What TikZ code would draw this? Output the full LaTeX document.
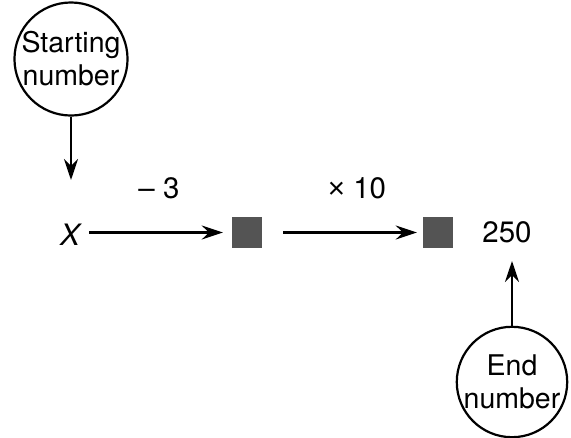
\documentclass[tikz,border=0pt]{standalone}
\usepackage{fontspec}
\setmainfont{TeX Gyre Heros}
\newfontfamily\symfont{Liberation Sans}
\usetikzlibrary{arrows.meta}
\begin{document}
\begin{tikzpicture}[x=1pt,y=-1pt,
  conn/.style={line width=2.2pt,-{Stealth[length=21pt,width=14pt,inset=7pt]}},
  bubble/.style={circle,draw,line width=2.2pt,minimum size=108pt,inner sep=0pt,align=center,font=\fontsize{28.5}{33}\selectfont},
  graybox/.style={fill=black!67,minimum width=30pt,minimum height=31pt,inner sep=0pt},
  lbl/.style={inner sep=0pt,font=\fontsize{29.5}{34}\selectfont}]
\useasboundingbox (0,0) rectangle (571,437);
\node[bubble] (start) at (71,59) {Starting\\number};
\node[bubble] (end) at (512,382) {End\\number};
\node[lbl,font=\fontsize{29.5}{34}\selectfont\itshape] (X) at (70,235) {X};
\node[graybox] (s1) at (247,232.5) {};
\node[graybox] (s2) at (438,232.5) {};
\node[lbl] (res) at (507,232) {250};
\node[lbl] (m3) at (159,188) {– 3};
\node[lbl] (t10) at (357,188) {{\symfont ×} 10};
\coordinate (xin) at (71,180);
\coordinate (rin) at (512,261);
\draw[conn] (start) -- (xin);
\draw[conn] (end) -- (rin);
\draw[conn,shorten <=9pt,shorten >=9pt] (X.east |- s1) -- (s1);
\draw[conn,shorten <=21pt,shorten >=6pt] (s1) -- (s2);
\end{tikzpicture}
\end{document}
